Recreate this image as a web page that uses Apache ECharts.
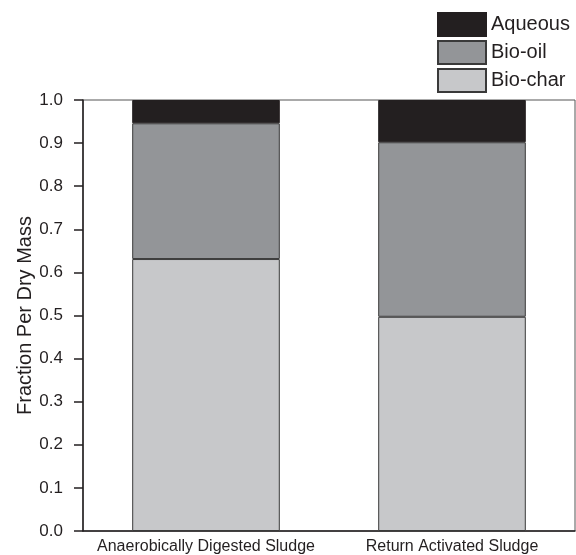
<!DOCTYPE html>
<html>
<head>
<meta charset="utf-8">
<script src="https://cdn.jsdelivr.net/npm/echarts@6/dist/echarts.min.js"></script>
<style>
    html, body { margin: 0; padding: 0; background: #fff; }
    #chart { width: 576px; height: 555px; }
</style>
</head>
<body>
<div id="chart"></div>
<script>
var categories = ['Anaerobically Digested Sludge', 'Return Activated Sludge'];
var bioChar = [0.631, 0.497];
var bioOil = [0.315, 0.405];
var aqueous = [0.054, 0.098];
var legendNames = ['Aqueous', 'Bio-oil', 'Bio-char'];

var myChart = echarts.init(document.getElementById('chart'));

var ink = '#231f20';
var font = '"Liberation Sans", Arial, sans-serif';

var option = {
    animation: false,
    textStyle: { fontFamily: font },
    legend: {
        data: legendNames,
        orient: 'vertical',
        left: 437,
        top: 12,
        padding: 0,
        itemWidth: 48,
        itemHeight: 23,
        itemGap: 3,
        icon: 'rect',
        selectedMode: false,
        textStyle: {
            color: ink,
            fontSize: 20,
            fontFamily: font
        }
    },
    grid: {
        left: 83,
        right: 1,
        top: 100,
        bottom: 24,
        show: true,
        borderColor: '#555',
        borderWidth: 1
    },
    xAxis: {
        type: 'category',
        data: categories,
        axisTick: { show: false },
        splitLine: { show: false },
        axisLine: {
            show: true,
            lineStyle: { color: ink, width: 1.5 }
        },
        axisLabel: {
            color: ink,
            fontSize: 16,
            margin: 8,
            interval: 0
        }
    },
    yAxis: {
        type: 'value',
        min: 0,
        max: 1,
        interval: 0.1,
        name: 'Fraction Per Dry Mass',
        nameLocation: 'middle',
        nameGap: 48,
        nameMoveOverlap: false,
        nameTextStyle: {
            color: ink,
            fontSize: 20
        },
        splitLine: { show: false },
        axisLine: {
            show: true,
            lineStyle: { color: ink, width: 1.5 }
        },
        axisTick: {
            show: true,
            length: 9,
            lineStyle: { color: ink, width: 1.5 }
        },
        axisLabel: {
            color: ink,
            fontSize: 17,
            margin: 20,
            formatter: function (v) { return v.toFixed(1); }
        }
    },
    series: [
        {
            name: 'Bio-char',
            type: 'bar',
            stack: 'total',
            barWidth: '60%',
            data: bioChar,
            itemStyle: { color: '#c7c8ca', borderColor: '#3a3a3a', borderWidth: 1 }
        },
        {
            name: 'Bio-oil',
            type: 'bar',
            stack: 'total',
            barWidth: '60%',
            data: bioOil,
            itemStyle: { color: '#939598', borderColor: '#3a3a3a', borderWidth: 1 }
        },
        {
            name: 'Aqueous',
            type: 'bar',
            stack: 'total',
            barWidth: '60%',
            data: aqueous,
            itemStyle: { color: ink, borderColor: ink, borderWidth: 1 }
        }
    ]
};

myChart.setOption(option);
</script>
</body>
</html>
